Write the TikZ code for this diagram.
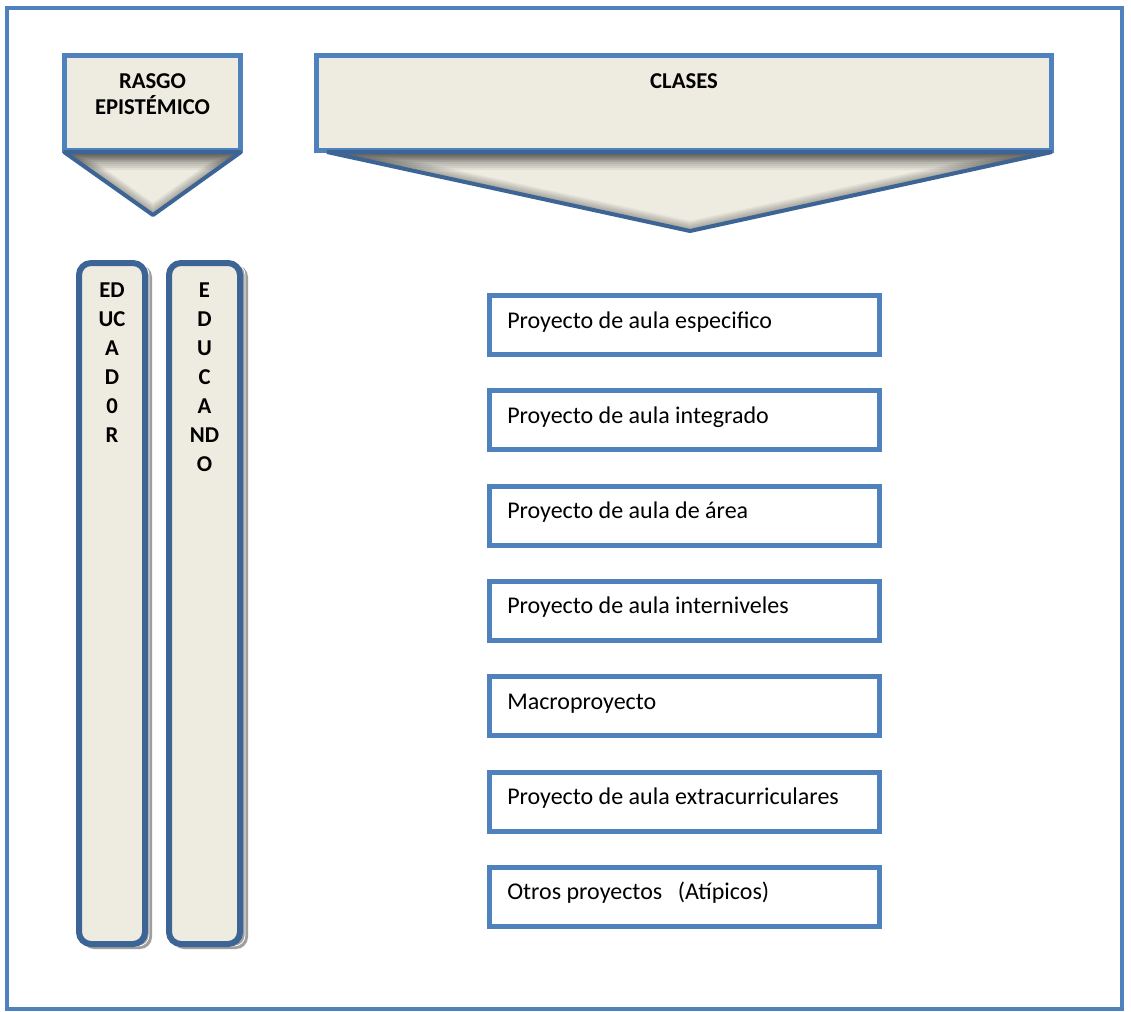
\documentclass[tikz,border=0pt]{standalone}
\usepackage{fontspec}
\setmainfont{Carlito}
\usetikzlibrary{calc}
\definecolor{frameblue}{HTML}{4F81BD}
\definecolor{darkblue}{HTML}{3C6494}
\definecolor{paper}{HTML}{EEECE1}
\tikzset{
  frame/.style={draw=frameblue, line width=4*0.75pt, inner sep=0pt},
  hdrbox/.style={draw=frameblue, fill=paper, line width=5*0.75pt, inner sep=0pt, minimum height=95*0.75pt},
  hdrtext/.style={font=\fontsize{17pt}{19.9pt}\selectfont\bfseries, align=center, inner sep=0pt, anchor=north},
  pointer/.style={draw=darkblue, line width=4*0.75pt, line join=bevel},
  colbox/.style={draw=darkblue, fill=paper, line width=6*0.75pt, rounded corners=9pt, inner sep=0pt, minimum height=681*0.75pt},
  coltext/.style={font=\fontsize{17pt}{21.75pt}\selectfont\bfseries, align=center, inner sep=0pt, anchor=north},
  itembox/.style={draw=frameblue, line width=5*0.75pt, fill=white, inner sep=0pt, minimum width=390*0.75pt, minimum height=59*0.75pt},
  itemtext/.style={font=\fontsize{18pt}{21pt}\selectfont, inner sep=0pt, anchor=base west}
}
\begin{document}
\begin{tikzpicture}[x=0.75pt, y=-0.75pt]
\useasboundingbox (0,0) rectangle (1131,1011);
\fill[white] (0,0) rectangle (1131,1011);

% outer frame
\node[frame, minimum width=1115*0.75pt, minimum height=1001*0.75pt] (outer) at (564.5,508.5) {};

% header boxes
\node[hdrbox, minimum width=176*0.75pt] (rasgo) at (152.5,103) {};
\node[hdrtext] (rasgoT) at (152.5,73) {RASGO\\EPISTÉMICO};
\node[hdrbox, minimum width=735*0.75pt] (clases) at (684,103) {};
\node[hdrtext] (clasesT) at (684,73) {CLASES};

% downward pointers under the headers, with a soft inner shadow
\coordinate (ra) at (64,152);
\coordinate (rb) at (241,152);
\coordinate (rc) at (153,215);
\coordinate (ca) at (327,152);
\coordinate (cb) at (1052,152);
\coordinate (cc) at (690,231);
\foreach \a/\b/\c in {ra/rb/rc, ca/cb/cc}{
  \begin{scope}
    \clip (\a) -- (\b) -- (\c) -- cycle;
    \fill[paper] (\a) -- (\b) -- (\c) -- cycle;
    \foreach \w in {2,4,...,20}{
      \draw[black, opacity=0.035, line width=\w*0.75pt, line join=round] (\a) -- (\b) -- (\c) -- cycle;
    }
    \foreach \d in {2,4,...,18}{
      \fill[black, opacity=0.06] ($(\a)+(0,-3)$) rectangle ($(\b)+(0,\d)$);
    }
  \end{scope}
  \draw[pointer] (\a) -- (\b) -- (\c) -- cycle;
}

% vertical column boxes with stacked-sheet shadow
\fill[gray!75, rounded corners=9pt] (82,265) rectangle (152,949);
\draw[white, line width=0.6pt, rounded corners=8pt] (80,264) rectangle (149,946);
\fill[gray!75, rounded corners=9pt] (172,265) rectangle (248,949);
\draw[white, line width=0.6pt, rounded corners=8pt] (170,264) rectangle (245,946);
\node[colbox, minimum width=66*0.75pt] (educador) at (112,603.5) {};
\node[colbox, minimum width=71*0.75pt] (educando) at (204.5,603.5) {};
\node[coltext] (educadorT) at (112,283) {ED\\UC\\A\\D\\0\\R};
\node[coltext] (educandoT) at (204.5,283) {E\\D\\U\\C\\A\\ND\\O};

% list of project classes
\foreach \t [count=\i from 0] in {
  Proyecto de aula especifico,
  Proyecto de aula integrado,
  Proyecto de aula de área,
  Proyecto de aula interniveles,
  Macroproyecto,
  Proyecto de aula extracurriculares,
  Otros proyectos\hspace{0.65em}(Atípicos)}{
  \node[itembox] (b\i) at (684.5,{325+95.3*\i}) {};
  \node[itemtext] (t\i) at (507,{328+95.3*\i}) {\t};
}
\end{tikzpicture}
\end{document}
